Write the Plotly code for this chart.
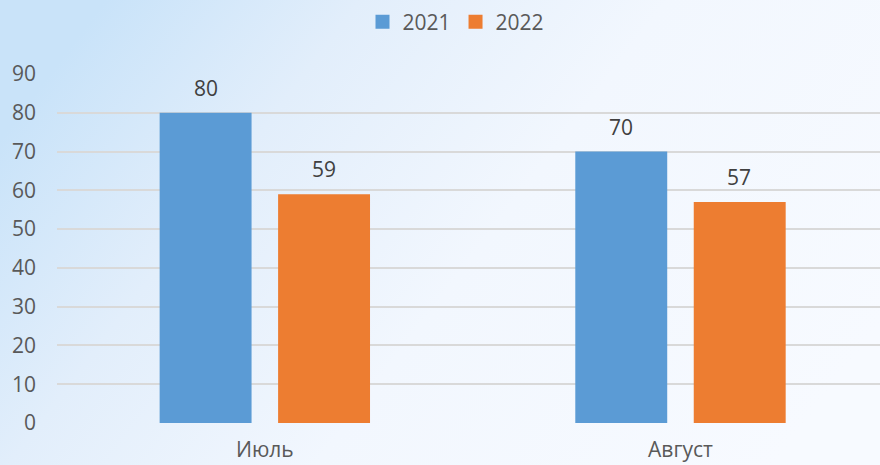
import base64
import plotly.graph_objects as go

categories = ["Июль", "Август"]
series_names = ["2021", "2022"]
values_2021 = [80, 70]
values_2022 = [59, 57]
colors = ["#5b9bd5", "#ed7d31"]

svg = """<svg xmlns='http://www.w3.org/2000/svg' width='880' height='465' preserveAspectRatio='none'>
<defs><linearGradient id='g' x1='0' y1='0.3' x2='1' y2='0.7'>
<stop offset='0' stop-color='#c9e3f9'/>
<stop offset='0.25' stop-color='#e2eefb'/>
<stop offset='0.55' stop-color='#f2f7fe'/>
<stop offset='1' stop-color='#f7faff'/>
</linearGradient></defs>
<rect width='880' height='465' fill='url(#g)'/></svg>"""
bg_uri = "data:image/svg+xml;base64," + base64.b64encode(svg.encode()).decode()

W, H = 880, 465
L, R, T, B = 57, 0, 74, 42
pw, ph = W - L - R, H - T - B

fig = go.Figure()
for name, vals, col in zip(series_names, [values_2021, values_2022], colors):
    fig.add_trace(go.Bar(x=categories, y=vals, name=name, marker_color=col,
                         marker_line_width=0, showlegend=False, legendgroup=name))
for name, col in zip(series_names, colors):
    fig.add_trace(go.Scatter(x=[None], y=[None], mode="markers", name=name,
                             legendgroup=name,
                             marker=dict(symbol="square", size=14, color=col)))

font = "Open Sans, Noto Sans, sans-serif"
for vals, shift in zip([values_2021, values_2022], [-59, 59]):
    for c, v in zip(categories, vals):
        fig.add_annotation(x=c, y=v, text=str(v), showarrow=False, xshift=shift,
                           yanchor="bottom", yshift=9,
                           font=dict(family=font, size=21, color="#404040"))

fig.update_layout(
    width=W, height=H,
    margin=dict(l=L, r=R, t=T, b=B),
    paper_bgcolor="rgba(0,0,0,0)",
    plot_bgcolor="rgba(0,0,0,0)",
    barmode="group", bargap=0.43, bargroupgap=0.224,
    font=dict(family=font, size=21, color="#595959"),
    legend=dict(orientation="h", x=(456 - L) / pw, xanchor="center", y=1 + (T - 22) / ph,
                yanchor="middle", font=dict(size=21, color="#595959"), itemwidth=30,
                bgcolor="rgba(0,0,0,0)", tracegroupgap=0),
    images=[dict(source=bg_uri, xref="paper", yref="paper",
                 x=-L / pw, y=1 + T / ph, sizex=W / pw, sizey=H / ph,
                 xanchor="left", yanchor="top", sizing="stretch", layer="below")],
    xaxis=dict(range=[-0.5, 1.48], showgrid=False, zeroline=False, showline=False,
               ticks="", ticklabelstandoff=12, tickfont=dict(size=21, color="#595959")),
    yaxis=dict(range=[0, 90], dtick=10, showgrid=True, gridcolor="#d9d9d9", gridwidth=1.5,
               zeroline=False, showline=False, ticks="", ticklabelstandoff=20,
               tickfont=dict(size=21, color="#595959")),
)
fig.write_html("out.html", config={"displayModeBar": False},
               post_script="document.body.style.margin='0';document.body.style.overflow='hidden';")
